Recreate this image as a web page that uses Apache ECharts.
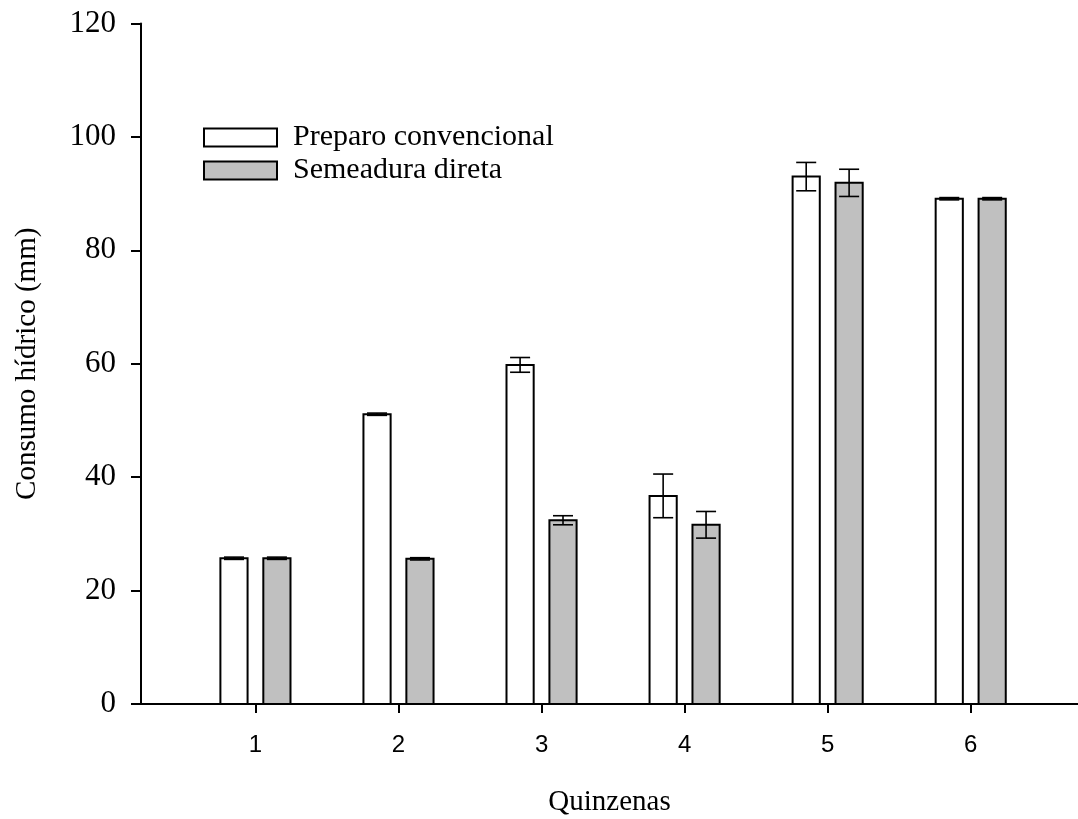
<!DOCTYPE html>
<html>
<head>
<meta charset="utf-8">
<script src="https://cdn.jsdelivr.net/npm/echarts@6/dist/echarts.min.js"></script>
<style>html,body{margin:0;padding:0;background:#fff;}#c{width:1078px;height:819px;}</style>
</head>
<body>
<div id="c"></div>
<script>
const quinzenas = [1, 2, 3, 4, 5, 6];
const convencional = [25.7, 51.1, 59.8, 36.7, 93.0, 89.1];
const convencionalErr = [0.2, 0.2, 1.3, 3.85, 2.5, 0.2];
const direta = [25.7, 25.6, 32.4, 31.6, 91.9, 89.1];
const diretaErr = [0.2, 0.2, 0.8, 2.35, 2.4, 0.2];
const yTicks = [0, 20, 40, 60, 80, 100, 120];
const seriesNames = ['Preparo convencional', 'Semeadura direta'];

const SERIF = 'Liberation Serif, Times New Roman, serif';
const SANS = 'Liberation Sans, Arial, sans-serif';
const BAR_W = 0.19, OFFSET = 0.15, CAP_W = 0.14;

function makeData(vals, errs) {
  return quinzenas.map((q, i) => [q, vals[i], errs[i]]);
}
function renderer(offset, fill) {
  return function (params, api) {
    const x = api.value(0), v = api.value(1), e = api.value(2);
    const xc = x + offset;
    const tl = api.coord([xc - BAR_W / 2, v]);
    const br = api.coord([xc + BAR_W / 2, 0]);
    const top = api.coord([xc, v + e]);
    const bot = api.coord([xc, v - e]);
    const capL = api.coord([xc - CAP_W / 2, 0])[0];
    const capR = api.coord([xc + CAP_W / 2, 0])[0];
    const ls = { stroke: '#000', lineWidth: 1.6 };
    return {
      type: 'group',
      children: [
        { type: 'rect', shape: { x: tl[0], y: tl[1], width: br[0] - tl[0], height: br[1] - tl[1] },
          style: { fill: fill, stroke: '#000', lineWidth: 2 } },
        { type: 'line', shape: { x1: top[0], y1: top[1], x2: bot[0], y2: bot[1] }, style: ls },
        { type: 'line', shape: { x1: capL, y1: top[1], x2: capR, y2: top[1] }, style: ls },
        { type: 'line', shape: { x1: capL, y1: bot[1], x2: capR, y2: bot[1] }, style: ls }
      ]
    };
  };
}

const chart = echarts.init(document.getElementById('c'));
chart.setOption({
  animation: false,
  backgroundColor: '#fff',
  grid: { left: 141, right: 0, top: 23.5, bottom: 115, containLabel: false, outerBoundsMode: 'none' },
  legend: {
    orient: 'vertical', left: 198, top: 116, itemWidth: 73, itemHeight: 18, itemGap: 0,
    icon: 'rect',
    textStyle: { fontFamily: SERIF, fontSize: 30, color: '#000', lineHeight: 33, padding: [0, 0, 0, 11] },
    data: [
      { name: seriesNames[0], icon: 'rect', itemStyle: { color: '#fff', borderColor: '#000', borderWidth: 2 } },
      { name: seriesNames[1], icon: 'rect', itemStyle: { color: '#c0c0c0', borderColor: '#000', borderWidth: 2 } }
    ]
  },
  xAxis: {
    type: 'value', min: 0.2, max: 6.75,
    name: 'Quinzenas', nameLocation: 'middle', nameGap: 84,
    nameTextStyle: { fontFamily: SERIF, fontSize: 29, color: '#000' },
    axisLine: { show: true, lineStyle: { color: '#000', width: 2 } },
    axisTick: { show: true, customValues: quinzenas, length: 9, lineStyle: { color: '#000', width: 2 } },
    axisLabel: { customValues: quinzenas, margin: 29, fontFamily: SANS, fontSize: 24, color: '#000' },
    splitLine: { show: false }
  },
  yAxis: {
    type: 'value', min: 0, max: 120, interval: 20,
    name: 'Consumo hídrico (mm)', nameLocation: 'middle', nameGap: 99,
    nameTextStyle: { fontFamily: SERIF, fontSize: 29, color: '#000' },
    axisLine: { show: true, lineStyle: { color: '#000', width: 2 } },
    axisTick: { show: true, customValues: yTicks, length: 10, lineStyle: { color: '#000', width: 2 } },
    axisLabel: { customValues: yTicks, margin: 25, fontFamily: SERIF, fontSize: 31, color: '#000' },
    splitLine: { show: false }
  },
  series: [
    { name: seriesNames[0], type: 'custom', data: makeData(convencional, convencionalErr),
      encode: { x: 0, y: 1 }, itemStyle: { color: '#fff', borderColor: '#000' },
      renderItem: renderer(-OFFSET, '#fff') },
    { name: seriesNames[1], type: 'custom', data: makeData(direta, diretaErr),
      encode: { x: 0, y: 1 }, itemStyle: { color: '#c0c0c0', borderColor: '#000' },
      renderItem: renderer(OFFSET, '#c0c0c0') }
  ]
});
</script>
</body>
</html>
